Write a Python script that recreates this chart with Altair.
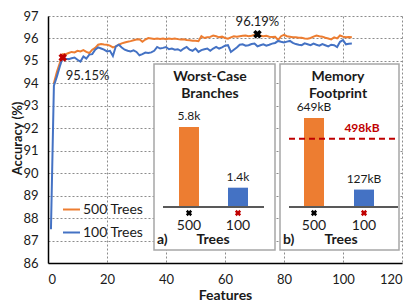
import altair as alt
import pandas as pd

# ---------------- data ----------------
features_500 = list(range(2, 104))
acc_500 = [
    94.0, 94.5, 94.9, 95.3, 95.3, 95.35, 95.4, 95.38, 95.45,
    95.42, 95.48, 95.4, 95.35, 95.5, 95.58, 95.72, 95.75, 95.73, 95.72,
    95.68, 95.6, 95.65, 95.72, 95.78, 95.82, 95.85, 95.88, 95.92, 95.95,
    95.96, 95.85, 95.95, 96.02, 96.0, 95.98, 96.0, 95.98, 96.0, 95.97,
    96.0, 95.98, 96.0, 95.97, 95.95, 95.96, 95.93, 95.92, 95.9, 95.9,
    95.88, 96.1, 96.02, 96.05, 96.07, 96.13, 96.1, 96.05, 96.08, 96.02,
    95.99, 96.05, 96.1, 96.08, 96.1, 96.12, 96.13, 96.1, 96.12, 96.15,
    96.19, 96.12, 96.1, 96.12, 96.08, 96.06, 96.07, 95.93, 96.1, 96.16,
    96.1, 96.08, 96.05, 96.05, 96.03, 96.03, 96.0, 95.99, 96.02, 96.08,
    96.13, 96.1, 96.08, 96.03, 96.0, 95.96, 96.05, 96.0, 96.13, 96.08,
    96.05, 96.06, 96.05,
]
features_100 = list(range(1, 104))
acc_100 = [
    87.5, 93.9, 94.3, 94.75, 95.15, 95.1, 95.08, 95.12, 95.15, 95.05,
    94.97, 95.2, 95.1, 95.28, 95.3, 95.5, 95.6, 95.55, 95.5, 95.42,
    95.45, 95.22, 95.65, 95.72, 95.6, 95.5, 95.45, 95.42, 95.47, 95.4,
    95.25, 95.3, 95.37, 95.35, 95.38, 95.45, 95.62, 95.55, 95.58, 95.62,
    95.52, 95.55, 95.5, 95.52, 95.45, 95.55, 95.62, 95.5, 95.45, 95.55,
    95.4, 95.48, 95.52, 95.55, 95.45, 95.55, 95.62, 95.55, 95.6, 95.68,
    95.7, 95.4, 95.5, 95.6, 95.72, 95.74, 95.68, 95.7, 95.75, 95.77,
    95.65, 95.7, 95.74, 95.68, 95.72, 95.77, 95.8, 95.89, 95.85, 95.82,
    95.86, 95.89, 95.8, 95.75, 95.72, 95.7, 95.78, 95.74, 95.7, 95.77,
    95.72, 95.68, 95.75, 95.7, 95.65, 95.72, 95.7, 95.62, 95.85, 95.93,
    95.74, 95.76, 95.77,
]
series_names = ["500 Trees", "100 Trees"]

best_trees = ["500", "100"]
best_features = [71, 5]
best_acc = [96.19, 95.15]
best_labels = ["96.19%", "95.15%"]

trees = ["500", "100"]
branches = [5.8, 1.4]
branch_labels = ["5.8k", "1.4k"]
memory = [649, 127]
memory_labels = ["649kB", "127kB"]
memory_limit = [498]
memory_limit_labels = ["498kB"]

x_ticks = [0, 20, 40, 60, 80, 100, 120]
y_ticks = list(range(86, 98))

# ---------------- styles ----------------
ORANGE = "#ED7D31"
BLUE = "#4472C4"
RED = "#C00000"
TXT = "#1a1a1a"
FONT = "Lato"

df500 = pd.DataFrame({"features": features_500, "accuracy": acc_500, "series": "500 Trees"})
df100 = pd.DataFrame({"features": features_100, "accuracy": acc_100, "series": "100 Trees"})
df_best = pd.DataFrame({"trees": best_trees, "features": best_features,
                        "accuracy": best_acc, "label": best_labels})
df_branch = pd.DataFrame({"trees": trees, "value": branches, "label": branch_labels})
df_mem = pd.DataFrame({"trees": trees, "value": memory, "label": memory_labels})
df_limit = pd.DataFrame({"limit": memory_limit, "label": memory_limit_labels})
dummy = pd.DataFrame({"d": [0]})

xs = alt.Scale(domain=[0, 120], nice=False)
ys = alt.Scale(domain=[86, 97], nice=False, zero=False)
grid_kw = dict(grid=True, gridColor="#8c8c8c", gridDash=[2, 2], gridWidth=1,
               domainColor="#000000", domainWidth=1.5, ticks=False,
               labelFont=FONT, labelFontSize=13, labelColor=TXT,
               titleFont=FONT, titleFontWeight="bold", titleColor=TXT)
xaxis = alt.Axis(values=x_ticks, title="Features", labelPadding=10, titlePadding=2,
                 titleFontSize=14, **grid_kw)
yaxis = alt.Axis(values=y_ticks, title="Accuracy (%)", labelPadding=10, titleFontSize=13,
                 titleX=-27, titleY=122, titleBaseline="alphabetic", titleAlign="center", **grid_kw)
color_scale = alt.Scale(domain=series_names, range=[ORANGE, BLUE])
legend = alt.Legend(title=None, orient="none", legendX=14, legendY=184, symbolType="stroke",
                    symbolStrokeWidth=2, symbolSize=289, labelFont=FONT, labelFontSize=14,
                    labelColor=TXT, labelOffset=2, rowPadding=6, padding=0)
mark_fill = alt.Scale(domain=trees, range=["#000000", RED])


def line_layer(df):
    return alt.Chart(df).mark_line(strokeWidth=2).encode(
        x=alt.X("features:Q", scale=xs, axis=xaxis),
        y=alt.Y("accuracy:Q", scale=ys, axis=yaxis),
        color=alt.Color("series:N", scale=color_scale, legend=legend),
    )


best_pts = alt.Chart(df_best).mark_point(shape="cross", angle=45, filled=True, size=75,
                                         opacity=1).encode(
    x=alt.X("features:Q", scale=xs, axis=xaxis),
    y=alt.Y("accuracy:Q", scale=ys, axis=yaxis),
    fill=alt.Fill("trees:N", scale=mark_fill, legend=None),
)
best_txt_500 = alt.Chart(df_best).transform_filter(alt.datum.trees == "500").mark_text(
    font=FONT, fontSize=13, color=TXT, align="center", baseline="middle", dy=-12).encode(
    x=alt.X("features:Q", scale=xs, axis=xaxis),
    y=alt.Y("accuracy:Q", scale=ys, axis=yaxis), text="label:N")
best_txt_100 = alt.Chart(df_best).transform_filter(alt.datum.trees == "100").mark_text(
    font=FONT, fontSize=13, color=TXT, align="left", baseline="middle", dx=3, dy=18).encode(
    x=alt.X("features:Q", scale=xs, axis=xaxis),
    y=alt.Y("accuracy:Q", scale=ys, axis=yaxis), text="label:N")

main = alt.layer(line_layer(df500), line_layer(df100), best_pts, best_txt_500, best_txt_100)

# ---------------- inset frames ----------------
def frame(x0, x1, y0, y1):
    return alt.Chart(dummy).mark_rect(fill="white", stroke="#a6a6a6", strokeWidth=1.5).encode(
        x=alt.value(x0), x2=alt.value(x1), y=alt.value(y0), y2=alt.value(y1))


frames = alt.layer(frame(106, 227, 48, 234), frame(232, 351, 48, 234))


def txt(s, x, y, size=14, bold=True, align="center", color=TXT):
    return alt.Chart(dummy).mark_text(text=s, font=FONT, fontSize=size,
                                      fontWeight="bold" if bold else "normal",
                                      align=align, baseline="middle", color=color).encode(
        x=alt.value(x), y=alt.value(y))


def panel(df, xrange, pin, pout, ydomain, yrange, center, title1, title2, letter, lx, base_x0, base_x1, extra=None):
    bx = alt.X("trees:N", sort=trees, axis=None,
               scale=alt.Scale(domain=trees, range=xrange, paddingInner=pin, paddingOuter=pout))
    by = alt.Y("value:Q", axis=None, scale=alt.Scale(domain=ydomain, range=yrange, nice=False))
    bars = alt.Chart(df).mark_bar().encode(
        x=bx, y=by,
        color=alt.Color("trees:N", scale=alt.Scale(domain=trees, range=[ORANGE, BLUE]), legend=None))
    labels = alt.Chart(df).mark_text(font=FONT, fontSize=12, color=TXT, baseline="bottom", dy=-4).encode(
        x=bx, y=by, text="label:N")
    base = alt.Chart(dummy).mark_rule(color="#595959", strokeWidth=2).encode(
        x=alt.value(base_x0), x2=alt.value(base_x1), y=alt.value(191))
    marks = alt.Chart(df).mark_point(shape="cross", angle=45, filled=True, size=40, opacity=1).encode(
        x=bx, y=alt.value(197), fill=alt.Fill("trees:N", scale=mark_fill, legend=None))
    ticks = alt.Chart(df).mark_text(font=FONT, fontSize=14, color=TXT, baseline="middle").encode(
        x=bx, y=alt.value(210), text="trees:N")
    layers = [bars, labels, base, marks, ticks,
              txt(title1, center, 61), txt(title2, center, 78),
              txt("Trees", center + 3, 224), txt(letter, lx, 224, align="left")]
    if extra is not None:
        layers = [bars] + extra + layers[1:]
    return alt.layer(*layers)


panel_a = panel(df_branch, [116.5, 214.5], 0.592, 0.296, [0, 5.8], [191, 111], 162,
                "Worst-Case", "Branches", "a)", 109, 115, 216)

limit_y = alt.Y("limit:Q", axis=None, scale=alt.Scale(domain=[0, 649], range=[191, 102], nice=False))
limit_rule = alt.Chart(df_limit).mark_rule(color=RED, strokeWidth=2, strokeDash=[6, 4]).encode(
    x=alt.value(241), x2=alt.value(350), y=limit_y)
limit_txt = alt.Chart(df_limit).mark_text(font=FONT, fontSize=12, fontWeight="bold", color=RED,
                                          baseline="bottom", dy=-4).encode(
    x=alt.value(314), y=limit_y, text="label:N")

panel_b = panel(df_mem, [241, 341], 0.6, 0.3, [0, 649], [191, 102], 290,
                "Memory", "Footprint", "b)", 235, 241, 350, extra=[limit_rule, limit_txt])

chart = alt.layer(main, frames, panel_a, panel_b).resolve_scale(
    x="independent", y="independent", color="independent", fill="independent"
).properties(
    width=354, height=247,
    padding={"left": 40, "top": 8, "right": 5, "bottom": 40},
    autosize=alt.AutoSizeParams(type="none"),
).configure(font=FONT).configure_view(strokeWidth=0)

chart.save("out.html", embed_options={"renderer": "svg", "actions": False})
